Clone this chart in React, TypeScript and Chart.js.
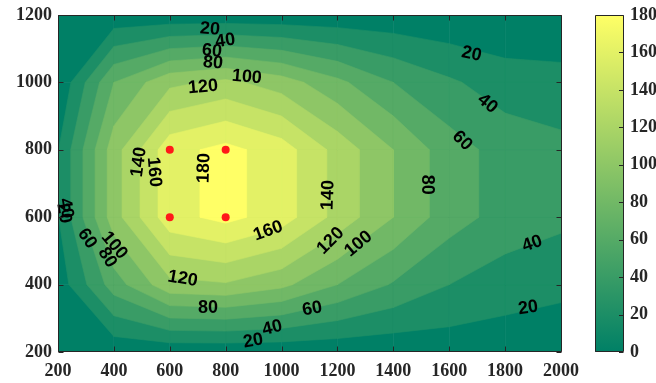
import React, { useEffect, useRef } from 'react';
import { Chart, registerables } from 'chart.js';

Chart.register(...registerables);

// ---- data ----
const xGrid = [200, 400, 600, 800, 1000, 1200, 1400, 1600, 1800, 2000];
const yGrid = [200, 400, 600, 800, 1000, 1200];
const zAt200 = [3, 5, 5, 5, 5, 5, 5, 8, 8, 9];
const zAt400 = [8, 70, 114, 118, 105, 80, 58, 40, 30, 24];
const zAt600 = [19, 111, 173, 186, 170, 133, 100, 69, 52, 45];
const zAt800 = [19, 111, 173, 186, 170, 133, 100, 69, 52, 45];
const zAt1000 = [2, 80, 115, 125, 110, 85, 60, 43, 30, 28];
const zAt1200 = [0, 5, 5, 5, 5, 5, 5, 3, 2, 1];
const zRows = [zAt200, zAt400, zAt600, zAt800, zAt1000, zAt1200];

const levels = [20, 40, 60, 80, 100, 120, 140, 160, 180];
const colorMin = 0;
const colorMax = 180;

const markerX = [600, 600, 800, 800];
const markerY = [600, 800, 600, 800];

const xTicks = [200, 400, 600, 800, 1000, 1200, 1400, 1600, 1800, 2000];
const yTicks = [200, 400, 600, 800, 1000, 1200];
const cbTicks = [0, 20, 40, 60, 80, 100, 120, 140, 160, 180];

const labelText = ['20', '40', '60', '80', '100', '120', '140', '160', '180', '140', '80', '160', '120', '100', '60', '40', '20', '80', '120', '100', '80', '60', '40', '20', '20', '40', '60', '40', '20'];
const labelX = [744, 798, 751, 755, 876, 719, 486, 547, 719, 1163, 1524, 951, 1173, 1273, 1109, 966, 898, 737, 647, 404, 379, 307, 232, 225, 1681, 1739, 1649, 1896, 1882];
const labelY = [1161, 1126, 1096, 1061, 1019, 989, 764, 734, 746, 666, 696, 562, 532, 523, 331, 274, 236, 334, 420, 518, 482, 538, 627, 612, 1087, 939, 829, 524, 334];
const labelAngle = [5, -8, 5, 5, 5, -5, -82, 85, -88, -88, 90, -20, -45, -40, -10, -14, -10, 0, 10, 50, 58, 55, 80, 80, 12, 40, 45, -20, -8];

// ---- helpers ----
function summer(t: number): string {
  const c = Math.max(0, Math.min(1, t));
  return `rgb(${Math.round(255 * c)},${Math.round(127.5 + 127.5 * c)},102)`;
}

type P = [number, number, number];

function clipAbove(poly: P[], lvl: number): P[] {
  const out: P[] = [];
  for (let i = 0; i < poly.length; i++) {
    const a = poly[i];
    const b = poly[(i + 1) % poly.length];
    const ina = a[2] >= lvl;
    const inb = b[2] >= lvl;
    if (ina) out.push(a);
    if (ina !== inb) {
      const t = (lvl - a[2]) / (b[2] - a[2]);
      out.push([a[0] + t * (b[0] - a[0]), a[1] + t * (b[1] - a[1]), lvl]);
    }
  }
  return out;
}

const AX = '#262626';
const tickFont = { family: '"Liberation Serif", "Times New Roman", serif', size: 18, weight: 'bold' as const };
const plain = (v: any) => String(v);
const noPad = (s: any) => {
  s.paddingTop = 0;
  s.paddingBottom = 0;
  s.paddingLeft = 0;
  s.paddingRight = 0;
};

const contourPlugin = {
  id: 'contourFill',
  beforeDatasetsDraw(chart: any) {
    const { ctx, chartArea } = chart;
    const xs = chart.scales.x;
    const ys = chart.scales.y;
    ctx.save();
    ctx.beginPath();
    ctx.rect(chartArea.left, chartArea.top, chartArea.right - chartArea.left, chartArea.bottom - chartArea.top);
    ctx.clip();
    for (let k = 0; k <= levels.length; k++) {
      const col = summer(((k === 0 ? colorMin : levels[k - 1]) - colorMin) / (colorMax - colorMin));
      ctx.fillStyle = col;
      ctx.strokeStyle = col;
      ctx.lineWidth = 0.6;
      for (let j = 0; j < yGrid.length - 1; j++) {
        for (let i = 0; i < xGrid.length - 1; i++) {
          const x0 = xs.getPixelForValue(xGrid[i]);
          const x1 = xs.getPixelForValue(xGrid[i + 1]);
          const y0 = ys.getPixelForValue(yGrid[j]);
          const y1 = ys.getPixelForValue(yGrid[j + 1]);
          let poly: P[] = [
            [x0, y0, zRows[j][i]],
            [x1, y0, zRows[j][i + 1]],
            [x1, y1, zRows[j + 1][i + 1]],
            [x0, y1, zRows[j + 1][i]],
          ];
          if (k > 0) poly = clipAbove(poly, levels[k - 1]);
          if (poly.length < 3) continue;
          ctx.beginPath();
          ctx.moveTo(poly[0][0], poly[0][1]);
          for (let p = 1; p < poly.length; p++) ctx.lineTo(poly[p][0], poly[p][1]);
          ctx.closePath();
          ctx.fill();
          ctx.stroke();
        }
      }
    }
    ctx.restore();
  },
  afterDraw(chart: any) {
    const { ctx, chartArea } = chart;
    const xs = chart.scales.x;
    const ys = chart.scales.y;
    const cb = chart.scales.cb;
    ctx.save();
    // contour labels
    ctx.fillStyle = '#000';
    ctx.font = 'bold 18px "Liberation Sans", Arial, sans-serif';
    ctx.textAlign = 'center';
    ctx.textBaseline = 'middle';
    for (let i = 0; i < labelText.length; i++) {
      const px = xs.getPixelForValue(labelX[i]);
      const py = ys.getPixelForValue(labelY[i]);
      ctx.save();
      ctx.translate(px, py);
      ctx.rotate((labelAngle[i] * Math.PI) / 180);
      ctx.fillText(labelText[i], 0, 1);
      ctx.restore();
    }
    // axes box and inward ticks
    const L = Math.round(chartArea.left) + 0.5;
    const R = Math.round(chartArea.right) + 0.5;
    const T = Math.round(chartArea.top) + 0.5;
    const B = Math.round(chartArea.bottom) - 0.5;
    ctx.strokeStyle = AX;
    ctx.lineWidth = 1;
    ctx.beginPath();
    ctx.rect(L, T, R - L, B - T);
    ctx.stroke();
    ctx.beginPath();
    for (const v of xTicks) {
      const px = Math.round(xs.getPixelForValue(v)) + 0.5;
      ctx.moveTo(px, B); ctx.lineTo(px, B - 5);
      ctx.moveTo(px, T); ctx.lineTo(px, T + 5);
    }
    for (const v of yTicks) {
      const py = Math.round(ys.getPixelForValue(v)) + 0.5;
      ctx.moveTo(L, py); ctx.lineTo(L + 5, py);
      ctx.moveTo(R, py); ctx.lineTo(R - 5, py);
    }
    ctx.stroke();
    // colorbar
    const cbL = 595;
    const cbR = 623;
    const cTop = cb.getPixelForValue(colorMax);
    const cBot = cb.getPixelForValue(colorMin);
    const g = ctx.createLinearGradient(0, cBot, 0, cTop);
    g.addColorStop(0, summer(0));
    g.addColorStop(1, summer(1));
    ctx.fillStyle = g;
    ctx.fillRect(cbL, cTop, cbR - cbL, cBot - cTop);
    ctx.strokeStyle = AX;
    ctx.beginPath();
    ctx.rect(cbL + 0.5, Math.round(cTop) + 0.5, cbR - cbL, Math.round(cBot - cTop) - 1);
    ctx.stroke();
    ctx.beginPath();
    for (const v of cbTicks) {
      const py = Math.round(cb.getPixelForValue(v)) + 0.5;
      ctx.moveTo(cbR + 0.5, py); ctx.lineTo(cbR - 4, py);
    }
    ctx.stroke();
    ctx.restore();
  },
};

export default function App() {
  const ref = useRef<HTMLCanvasElement | null>(null);
  useEffect(() => {
    if (!ref.current) return;
    const chart = new Chart(ref.current, {
      type: 'scatter',
      data: {
        datasets: [
          {
            data: markerX.map((x, i) => ({ x, y: markerY[i] })),
            backgroundColor: 'rgb(255,25,25)',
            borderWidth: 0,
            pointRadius: 4,
          },
        ],
      },
      options: {
        responsive: false,
        maintainAspectRatio: false,
        animation: false,
        events: [],
        layout: { padding: { top: 15, left: 0, right: 0, bottom: 0 } },
        plugins: { legend: { display: false }, tooltip: { enabled: false } },
        scales: {
          x: {
            type: 'linear',
            position: 'bottom',
            min: 200,
            max: 2000,
            z: 1,
            afterFit: (s: any) => { s.height = 31; noPad(s); },
            afterBuildTicks: (s: any) => { s.ticks = xTicks.map((v) => ({ value: v })); },
            ticks: { font: tickFont, color: AX, padding: 9, maxRotation: 0, autoSkip: false, callback: plain },
            grid: { color: 'rgba(255,255,255,0.38)', drawTicks: false },
            border: { display: false },
          },
          y: {
            type: 'linear',
            position: 'left',
            min: 200,
            max: 1200,
            z: 1,
            afterFit: (s: any) => { s.width = 58; noPad(s); },
            afterBuildTicks: (s: any) => { s.ticks = yTicks.map((v) => ({ value: v })); },
            ticks: { font: tickFont, color: AX, padding: 6, autoSkip: false, callback: plain },
            grid: { color: 'rgba(255,255,255,0.38)', drawTicks: false },
            border: { display: false },
          },
          cb: {
            type: 'linear',
            position: 'right',
            min: colorMin,
            max: colorMax,
            afterFit: (s: any) => { s.width = 95; noPad(s); },
            afterBuildTicks: (s: any) => { s.ticks = cbTicks.map((v) => ({ value: v })); },
            ticks: { font: tickFont, color: AX, padding: 69, autoSkip: false, callback: plain },
            grid: { display: false, drawTicks: false },
            border: { display: false },
          },
        },
      } as any,
      plugins: [contourPlugin],
    });
    return () => chart.destroy();
  }, []);
  return (
    <div style={{ position: 'fixed', left: 0, top: 0, width: 656, height: 383, background: '#fff' }}>
      <canvas ref={ref} width={656} height={383} style={{ width: 656, height: 383, display: 'block' }} />
    </div>
  );
}
